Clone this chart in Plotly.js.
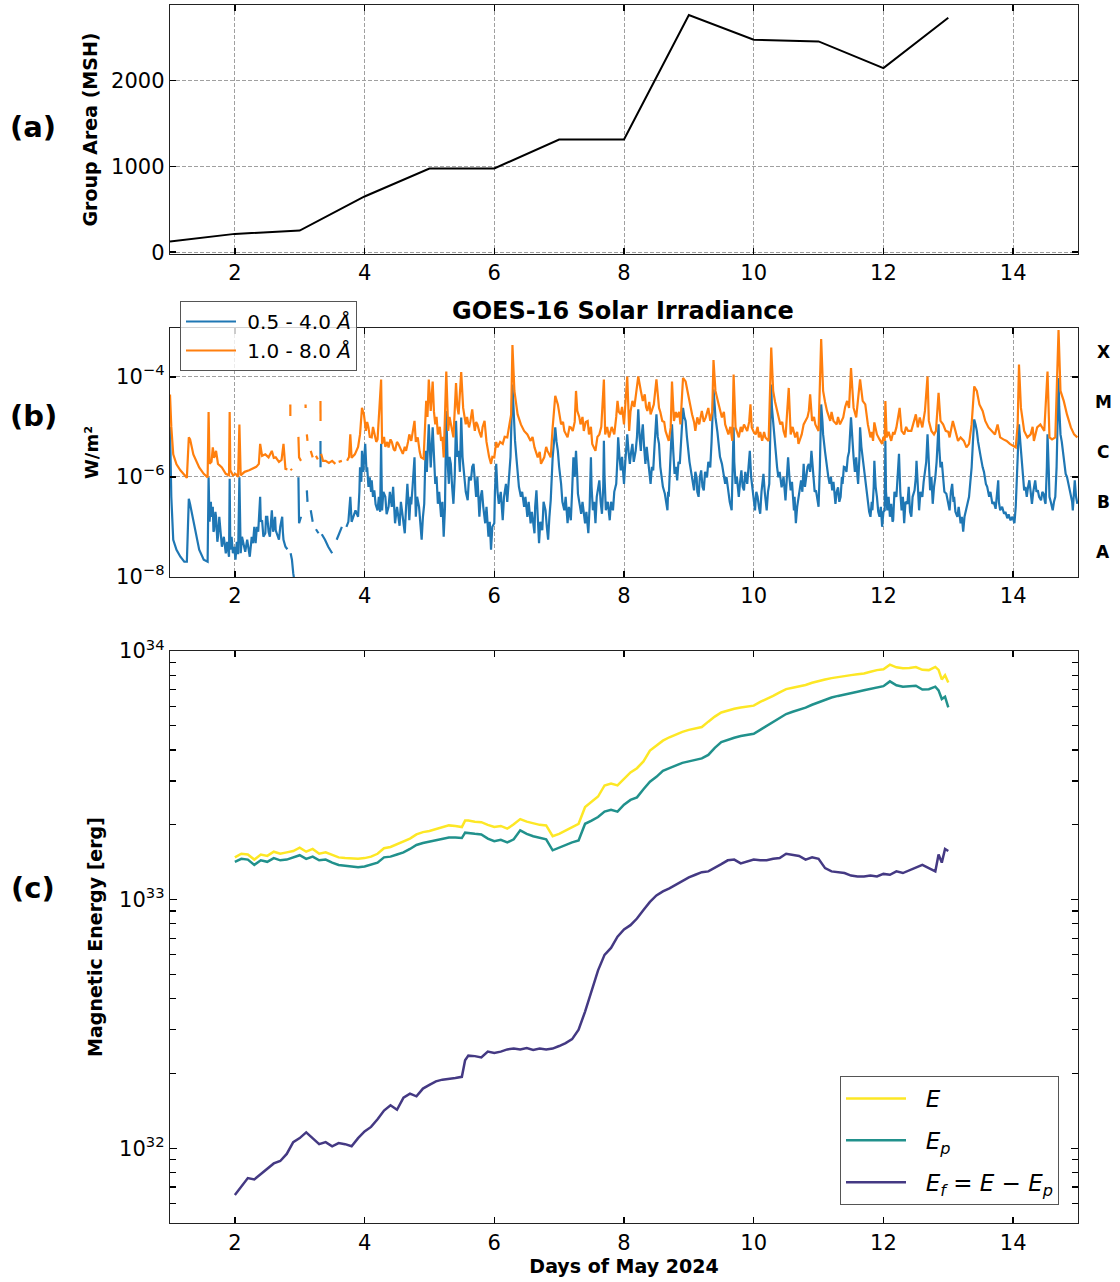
<!DOCTYPE html>
<html><head><meta charset="utf-8">
<script src="https://cdn.plot.ly/plotly-3.0.1.min.js"></script>
<style>html,body{margin:0;padding:0;background:#fff}#chart{width:1120px;height:1282px}</style>
</head><body><div id="chart"></div>
<script>
// ---------- Panel (a): sunspot group area ----------
const areaDay = [1,2,3,4,5,6,7,8,9,10,11,12,13];
const areaMSH = [124,214,252,650,976,976,1314,1314,2764,2476,2457,2145,2733];

// ---------- Panel (b): GOES-16 XRS, [day, log10(flux W/m^2)] ----------
const goesShort = [
[1.00,-5.0],[1.02,-6.4],[1.05,-7.26],[1.10,-7.46],[1.16,-7.60],[1.22,-7.70],[1.26,-7.70],[1.29,-6.44],[1.31,-6.55],[1.36,-6.90],
[1.45,-7.46],[1.52,-7.66],[1.58,-7.70],[1.595,-6.01],[1.60,-6.6],[1.61,-6.90],[1.63,-6.5],[1.64,-6.80],[1.66,-6.60],[1.67,-7.1],
[1.68,-7.07],[1.70,-6.7],[1.71,-6.80],[1.73,-7.3],[1.74,-7.20],[1.76,-6.8],[1.77,-6.93],[1.79,-7.3],[1.80,-7.40],[1.83,-7.2],
[1.86,-7.53],[1.88,-7.3],[1.91,-7.60],[1.92,-6.04],[1.93,-7.46],[1.95,-7.2],[1.97,-7.53],[1.99,-7.4],[2.01,-7.66],[2.03,-7.3],
[2.05,-7.55],[2.07,-6.01],[2.09,-7.53],[2.11,-7.2],[2.13,-7.30],[2.16,-7.5],[2.19,-7.26],[2.21,-7.5],[2.23,-7.60],[2.26,-7.2],
[2.28,-7.33],[2.30,-7.0],[2.32,-7.33],[2.34,-7.0],[2.36,-7.10],[2.39,-6.40],[2.40,-6.9],[2.42,-6.87],[2.44,-7.2],[2.47,-7.13],
[2.48,-6.8],[2.50,-6.80],[2.52,-7.1],[2.54,-7.20],[2.56,-6.9],[2.57,-6.67],[2.59,-7.1],[2.60,-7.0],[2.62,-6.8],[2.63,-7.07],
[2.66,-7.2],[2.68,-7.26],[2.70,-7.0],[2.73,-6.80],[2.74,-7.1],[2.75,-7.26],[2.78,-7.40],[2.81,-7.45],
[2.82,null],[2.86,-7.53],[2.88,-7.66],[2.90,-7.93],[2.92,-8.1],[2.93,null],[2.98,-6.01],[2.981,-6.54],[2.99,-6.93],[3.02,-6.80],
[3.04,null],[3.11,-6.27],[3.12,-6.50],[3.13,null],[3.17,-6.67],[3.20,-6.90],[3.22,null],[3.25,-7.05],[3.29,-7.13],[3.30,null],
[3.32,-5.28],[3.321,-5.81],[3.322,null],[3.34,-7.15],[3.39,-7.26],[3.44,-7.40],[3.50,-7.53],[3.53,null],[3.57,-7.26],[3.62,-7.07],
[3.65,-7.00],[3.68,null],[3.72,-7.00],[3.75,-6.90],[3.78,-6.40],[3.80,-6.90],[3.86,-6.67],
[3.90,-6.80],[3.92,-6.3],[3.93,-5.81],[3.95,-6.1],[3.96,-5.48],[3.98,-5.9],[4.01,-5.34],[4.03,-5.9],[4.04,-5.81],[4.06,-6.2],
[4.08,-6.01],[4.10,-6.3],[4.11,-6.07],[4.13,-6.4],[4.15,-6.27],[4.17,-6.55],[4.20,-6.67],[4.22,-6.4],[4.24,-6.7],[4.255,-5.34],
[4.27,-6.67],[4.29,-6.3],[4.32,-6.40],[4.34,-6.75],[4.37,-6.60],[4.39,-6.3],[4.42,-6.60],[4.44,-6.2],[4.47,-6.93],[4.50,-6.60],
[4.52,-6.85],[4.54,-6.98],[4.56,-6.5],[4.58,-6.70],[4.60,-6.95],[4.62,-7.13],[4.64,-6.6],[4.66,-6.14],[4.68,-6.6],[4.69,-6.87],
[4.71,-6.4],[4.72,-6.55],[4.74,-6.2],[4.77,-5.61],[4.79,-6.80],[4.81,-6.4],[4.84,-6.60],[4.86,-6.9],[4.88,-7.26],[4.90,-6.8],
[4.92,-6.54],[4.94,-5.48],[4.96,-5.9],[4.99,-4.95],[5.01,-5.6],[5.02,-5.81],[5.05,-5.01],[5.07,-5.7],[5.09,-6.14],[5.11,-6.0],
[5.13,-6.54],[5.15,-6.3],[5.18,-6.80],[5.20,-6.5],[5.22,-7.20],[5.24,-6.6],[5.26,-4.68],[5.28,-5.7],[5.30,-6.14],[5.31,-5.6],
[5.33,-5.74],[5.35,-6.2],[5.37,-6.54],[5.39,-6.0],[5.41,-4.88],[5.43,-5.6],[5.45,-5.48],[5.47,-5.9],[5.49,-4.81],[5.51,-5.6],
[5.54,-6.01],[5.56,-6.3],[5.59,-6.47],[5.61,-6.0],[5.64,-6.07],[5.66,-5.8],[5.68,-5.74],[5.70,-6.2],[5.72,-6.40],[5.74,-6.0],
[5.77,-6.80],[5.79,-6.4],[5.81,-6.27],[5.83,-6.6],[5.86,-6.93],[5.88,-6.6],[5.91,-7.20],[5.93,-6.9],[5.95,-7.46],[5.97,-7.0],
[6.00,-6.93],[6.01,-6.3],[6.03,-5.74],[6.05,-6.3],[6.07,-6.54],[6.10,-6.3],[6.13,-6.87],[6.15,-6.4],[6.18,-6.14],[6.20,-6.5],
[6.23,-5.87],[6.25,-5.6],[6.28,-4.15],[6.30,-4.8],[6.32,-5.28],[6.34,-5.6],[6.36,-5.87],[6.38,-6.2],[6.41,-6.40],[6.43,-6.3],
[6.46,-6.60],[6.48,-6.4],[6.51,-6.80],[6.53,-6.5],[6.56,-6.93],[6.58,-6.7],[6.62,-7.13],[6.63,-6.6],[6.65,-6.27],[6.67,-6.9],
[6.69,-7.33],[6.71,-6.9],[6.74,-7.07],[6.76,-6.5],[6.79,-6.67],[6.81,-7.0],[6.83,-7.26],[6.85,-6.8],[6.87,-6.47],[6.90,-5.61],
[6.92,-5.3],[6.94,-5.01],[6.96,-5.3],[6.98,-5.48],[7.00,-5.8],[7.03,-6.14],[7.05,-6.5],[7.08,-6.67],[7.10,-6.4],[7.13,-6.93],
[7.15,-6.6],[7.18,-6.87],[7.20,-6.3],[7.22,-5.61],[7.24,-6.0],[7.26,-5.48],[7.28,-6.0],[7.29,-6.34],[7.31,-6.5],[7.34,-6.74],
[7.36,-6.5],[7.40,-6.93],[7.42,-6.7],[7.45,-7.13],[7.47,-6.6],[7.49,-5.61],[7.50,-6.2],[7.52,-6.67],[7.54,-6.5],[7.56,-6.93],
[7.58,-6.4],[7.62,-6.07],[7.64,-6.5],[7.66,-6.74],[7.68,-6.2],[7.69,-5.28],[7.70,-6.0],[7.72,-6.67],[7.75,-6.5],[7.78,-6.87],
[7.80,-6.5],[7.83,-6.67],[7.85,-6.3],[7.88,-6.14],[7.90,-5.6],[7.91,-5.21],[7.93,-5.6],[7.95,-5.87],[7.97,-5.6],[8.00,-6.14],
[8.02,-5.7],[8.05,-5.15],[8.07,-5.5],[8.09,-5.74],[8.11,-5.5],[8.13,-5.34],[8.15,-5.7],[8.18,-5.48],[8.20,-5.2],[8.22,-4.65],
[8.24,-5.2],[8.26,-5.48],[8.27,-5.2],[8.29,-4.95],[8.31,-5.4],[8.33,-5.74],[8.35,-5.4],[8.37,-5.61],[8.39,-5.9],[8.41,-6.14],
[8.43,-5.8],[8.45,-5.87],[8.47,-5.4],[8.50,-4.75],[8.52,-5.2],[8.54,-5.34],[8.56,-5.8],[8.58,-6.01],[8.60,-6.2],[8.63,-6.34],
[8.65,-6.5],[8.67,-6.67],[8.68,-6.3],[8.69,-6.40],[8.71,-5.8],[8.74,-4.95],[8.76,-5.5],[8.78,-5.94],[8.80,-5.8],[8.82,-6.07],
[8.84,-5.7],[8.86,-5.74],[8.88,-5.3],[8.91,-4.62],[8.93,-4.8],[8.95,-4.88],[8.97,-5.2],[8.99,-5.48],[9.01,-5.7],[9.04,-5.94],
[9.06,-6.1],[9.08,-6.27],[9.10,-5.9],[9.12,-6.01],[9.13,-6.3],[9.15,-6.40],[9.17,-6.0],[9.19,-5.87],[9.21,-6.2],[9.23,-6.27],
[9.25,-5.9],[9.28,-6.01],[9.30,-5.7],[9.33,-5.81],[9.35,-5.3],[9.38,-4.25],[9.40,-4.6],[9.41,-4.81],[9.44,-5.1],[9.46,-5.34],
[9.48,-5.6],[9.51,-5.74],[9.53,-5.9],[9.56,-6.14],[9.58,-6.0],[9.61,-6.34],[9.63,-6.5],[9.66,-6.67],[9.67,-6.2],[9.69,-5.01],
[9.70,-5.7],[9.72,-6.14],[9.74,-6.0],[9.77,-6.40],[9.79,-6.1],[9.81,-5.87],[9.83,-6.2],[9.85,-6.27],[9.87,-5.9],[9.90,-6.14],
[9.92,-5.8],[9.94,-5.48],[9.96,-6.0],[9.98,-6.27],[10.00,-6.5],[10.02,-6.67],[10.04,-6.3],[10.06,-6.40],[10.08,-6.6],[10.10,-6.74],
[10.12,-6.3],[10.15,-5.94],[10.17,-6.3],[10.20,-6.67],[10.22,-6.3],[10.24,-6.14],[10.25,-5.5],[10.27,-4.15],[10.28,-4.6],[10.30,-4.95],
[10.32,-5.3],[10.34,-5.61],[10.36,-5.8],[10.38,-6.01],[10.40,-5.9],[10.43,-6.21],[10.46,-6.0],[10.49,-6.47],[10.51,-6.0],[10.53,-5.61],
[10.55,-6.0],[10.57,-6.27],[10.59,-6.1],[10.62,-6.67],[10.63,-6.4],[10.65,-6.93],[10.67,-6.6],[10.69,-6.40],[10.71,-6.2],[10.73,-6.07],
[10.75,-6.3],[10.77,-5.74],[10.79,-6.2],[10.81,-6.01],[10.83,-5.8],[10.85,-5.74],[10.87,-5.9],[10.89,-5.48],[10.91,-5.8],[10.92,-6.01],
[10.94,-6.3],[10.96,-6.27],[10.98,-6.5],[11.00,-6.60],[11.02,-5.8],[11.04,-4.55],[11.06,-4.9],[11.07,-5.15],[11.10,-5.5],[11.13,-5.87],
[11.15,-6.0],[11.17,-6.14],[11.19,-6.0],[11.21,-6.27],[11.23,-6.1],[11.26,-6.54],[11.28,-6.3],[11.30,-6.21],[11.32,-6.5],[11.34,-6.40],
[11.36,-6.0],[11.37,-6.14],[11.39,-5.8],[11.41,-5.81],[11.43,-5.9],[11.45,-5.61],[11.47,-5.5],[11.50,-4.81],[11.52,-5.3],[11.54,-5.61],
[11.56,-5.9],[11.58,-5.61],[11.60,-6.0],[11.61,-6.14],[11.63,-5.6],[11.64,-5.01],[11.66,-5.4],[11.68,-5.61],[11.70,-5.9],[11.72,-6.01],
[11.74,-6.3],[11.76,-6.54],[11.78,-6.7],[11.80,-6.80],[11.82,-6.5],[11.83,-6.67],[11.85,-6.2],[11.86,-5.68],[11.88,-6.2],[11.90,-6.40],
[11.92,-6.7],[11.94,-6.80],[11.96,-6.6],[11.98,-7.00],[12.00,-6.7],[12.02,-6.67],[12.03,-5.28],[12.04,-6.3],[12.06,-6.67],[12.08,-6.4],
[12.10,-6.8],[12.12,-6.54],[12.14,-6.9],[12.15,-6.87],[12.17,-6.3],[12.20,-6.40],[12.22,-6.0],[12.24,-5.54],[12.26,-6.3],[12.28,-6.67],
[12.30,-6.4],[12.32,-6.93],[12.34,-6.5],[12.37,-6.54],[12.39,-6.2],[12.41,-6.7],[12.43,-6.80],[12.45,-6.4],[12.48,-6.27],[12.50,-6.0],
[12.51,-5.68],[12.53,-6.3],[12.55,-6.67],[12.57,-6.3],[12.60,-6.40],[12.62,-6.1],[12.64,-5.94],[12.66,-5.7],[12.68,-5.15],[12.70,-5.8],
[12.72,-6.27],[12.74,-6.0],[12.76,-6.54],[12.78,-6.2],[12.80,-6.01],[12.82,-5.7],[12.85,-4.95],[12.86,-5.4],[12.88,-5.81],[12.90,-5.7],
[12.92,-6.01],[12.94,-6.3],[12.97,-6.34],[12.99,-6.5],[13.02,-6.67],[13.04,-6.3],[13.06,-6.14],[13.08,-6.5],[13.09,-6.40],[13.11,-6.7],
[13.14,-6.80],[13.16,-6.6],[13.19,-6.93],[13.21,-6.8],[13.23,-7.10],[13.25,-6.8],[13.27,-6.67],[13.30,-6.5],[13.32,-6.40],[13.34,-6.1],
[13.36,-5.81],[13.38,-5.3],[13.40,-4.85],[13.42,-4.95],[13.44,-5.08],[13.46,-5.3],[13.48,-5.48],[13.50,-5.6],[13.53,-5.81],[13.55,-5.9],
[13.58,-6.14],[13.60,-6.2],[13.63,-6.40],[13.65,-6.3],[13.68,-6.54],[13.70,-6.5],[13.73,-6.64],[13.75,-6.4],[13.77,-6.07],[13.78,-6.5],
[13.80,-6.67],[13.83,-6.6],[13.86,-6.74],[13.88,-6.7],[13.91,-6.83],[13.93,-6.75],[13.96,-6.87],[13.99,-6.8],[14.02,-6.93],[14.04,-6.6],
[14.05,-6.27],[14.07,-5.6],[14.09,-4.95],[14.11,-5.3],[14.13,-5.61],[14.15,-6.0],[14.17,-6.27],[14.19,-6.2],[14.21,-6.40],[14.23,-6.2],
[14.25,-6.07],[14.27,-6.3],[14.29,-6.54],[14.31,-6.3],[14.34,-6.07],[14.36,-6.3],[14.38,-6.27],[14.40,-6.4],[14.43,-6.47],[14.45,-6.3],
[14.47,-6.34],[14.49,-6.5],[14.50,-6.54],[14.52,-5.8],[14.53,-5.15],[14.55,-5.9],[14.56,-6.40],[14.58,-6.5],[14.61,-6.67],[14.63,-6.5],
[14.65,-6.40],[14.67,-5.8],[14.70,-4.02],[14.71,-4.6],[14.73,-5.15],[14.75,-5.3],[14.77,-5.48],[14.79,-5.7],[14.81,-5.94],[14.83,-6.0],
[14.85,-6.14],[14.87,-6.3],[14.89,-6.40],[14.91,-6.5],[14.92,-6.67],[14.94,-6.3],[14.95,-6.07],[14.97,-6.4],[14.99,-6.54]
];
const goesLong = [
[1.00,-4.35],[1.02,-5.0],[1.05,-5.55],[1.10,-5.75],[1.16,-5.87],[1.22,-5.97],[1.26,-6.02],[1.29,-5.21],[1.31,-5.25],[1.36,-5.55],
[1.45,-5.81],[1.52,-5.94],[1.58,-6.01],[1.595,-4.70],[1.61,-5.74],[1.64,-5.70],[1.66,-5.41],[1.68,-5.62],[1.71,-5.48],[1.74,-5.74],
[1.80,-5.81],[1.86,-5.94],[1.91,-5.97],[1.92,-4.70],[1.93,-5.87],[1.97,-5.97],[2.01,-5.94],[2.05,-6.0],[2.07,-4.95],[2.09,-5.97],
[2.15,-5.90],[2.22,-5.87],[2.27,-5.84],[2.33,-5.80],[2.37,-5.74],[2.39,-5.34],[2.42,-5.58],[2.47,-5.55],[2.52,-5.61],[2.57,-5.48],
[2.60,-5.62],[2.63,-5.61],[2.68,-5.70],[2.72,-5.66],[2.75,-5.34],[2.78,-5.84],[2.81,-5.85],[2.82,null],[2.855,-4.55],[2.856,-4.78],
[2.857,null],[2.86,-5.84],[2.88,-5.87],[2.89,null],[2.98,-5.20],[2.981,-5.48],[2.99,-5.61],[3.02,-5.68],[3.03,null],[3.09,-4.55],
[3.091,-4.62],[3.095,null],[3.11,-5.15],[3.12,-5.28],[3.13,null],[3.17,-5.48],[3.20,-5.61],[3.21,null],[3.25,-5.58],[3.28,-5.65],
[3.29,null],[3.32,-4.48],[3.321,-4.88],[3.322,null],[3.33,-5.54],[3.36,-5.68],[3.40,-5.68],[3.45,-5.72],[3.50,-5.68],[3.55,-5.74],
[3.58,null],[3.60,-5.70],[3.65,-5.68],[3.68,null],[3.73,-5.68],[3.76,-5.60],[3.78,-5.15],[3.80,-5.62],[3.85,-5.55],[3.90,-5.40],
[3.93,-5.15],[3.96,-4.62],[3.99,-4.75],[4.02,-5.08],[4.04,-4.9],[4.06,-5.01],[4.08,-5.2],[4.11,-5.21],[4.13,-5.0],[4.15,-5.15],
[4.18,-5.3],[4.20,-5.25],[4.255,-4.05],[4.27,-5.34],[4.30,-5.2],[4.32,-5.40],[4.35,-5.3],[4.37,-5.41],[4.40,-5.25],[4.42,-5.30],
[4.45,-5.45],[4.47,-5.48],[4.50,-5.3],[4.52,-5.34],[4.56,-5.44],[4.59,-5.54],[4.62,-5.4],[4.64,-5.48],[4.67,-5.3],[4.69,-5.15],
[4.72,-5.28],[4.77,-4.88],[4.79,-5.3],[4.82,-5.21],[4.85,-5.5],[4.87,-5.61],[4.91,-5.64],[4.95,-4.48],[4.97,-4.8],[4.99,-4.05],
[5.02,-4.68],[5.05,-4.09],[5.07,-4.7],[5.09,-4.95],[5.11,-4.8],[5.13,-5.15],[5.16,-5.0],[5.18,-5.28],[5.20,-5.2],[5.22,-5.61],
[5.26,-3.89],[5.29,-5.08],[5.31,-4.8],[5.33,-4.95],[5.35,-5.1],[5.37,-5.21],[5.41,-4.12],[5.43,-4.6],[5.45,-4.75],[5.49,-3.90],
[5.52,-4.62],[5.54,-4.8],[5.56,-4.95],[5.58,-4.8],[5.61,-5.01],[5.63,-4.9],[5.66,-4.65],[5.68,-4.9],[5.70,-5.08],[5.72,-4.9],
[5.74,-4.95],[5.77,-5.1],[5.80,-5.21],[5.82,-5.0],[5.85,-4.88],[5.88,-5.3],[5.90,-5.48],[5.92,-5.6],[5.95,-5.74],[5.97,-5.6],
[6.00,-5.61],[6.03,-5.3],[6.05,-5.41],[6.09,-5.3],[6.13,-5.34],[6.16,-5.2],[6.20,-5.21],[6.23,-5.0],[6.26,-4.75],[6.28,-3.36],
[6.31,-4.28],[6.36,-4.75],[6.41,-4.95],[6.46,-5.08],[6.51,-5.15],[6.56,-5.28],[6.59,-5.2],[6.62,-5.41],[6.67,-5.61],[6.70,-5.5],
[6.72,-5.74],[6.77,-5.61],[6.80,-5.4],[6.82,-5.48],[6.87,-5.61],[6.90,-5.01],[6.94,-4.38],[6.98,-4.55],[7.03,-4.95],[7.06,-4.9],
[7.08,-5.08],[7.13,-5.21],[7.16,-5.0],[7.18,-5.01],[7.21,-5.08],[7.24,-4.9],[7.26,-4.28],[7.28,-4.68],[7.31,-4.8],[7.33,-4.95],
[7.36,-4.8],[7.38,-5.08],[7.41,-4.9],[7.44,-4.88],[7.46,-5.15],[7.49,-5.0],[7.51,-5.34],[7.56,-5.48],[7.59,-5.2],[7.62,-5.15],
[7.65,-5.0],[7.69,-4.05],[7.71,-5.15],[7.74,-5.0],[7.77,-5.21],[7.81,-5.0],[7.85,-5.15],[7.88,-4.8],[7.90,-4.48],[7.92,-4.7],
[7.95,-4.75],[7.97,-4.6],[8.00,-4.95],[8.05,-3.99],[8.08,-5.08],[8.10,-4.7],[8.13,-4.48],[8.16,-4.6],[8.18,-4.35],[8.22,-3.99],
[8.26,-4.28],[8.29,-4.48],[8.32,-4.35],[8.34,-4.6],[8.36,-4.68],[8.39,-4.5],[8.41,-4.75],[8.44,-4.6],[8.46,-4.55],[8.50,-4.05],
[8.54,-4.62],[8.56,-4.7],[8.59,-4.88],[8.62,-4.9],[8.64,-5.08],[8.67,-5.2],[8.69,-5.28],[8.72,-5.01],[8.74,-4.09],[8.77,-4.88],
[8.80,-4.7],[8.82,-4.81],[8.85,-4.7],[8.87,-4.95],[8.91,-4.02],[8.95,-4.09],[8.98,-4.3],[9.00,-4.42],[9.03,-4.6],[9.05,-4.75],
[9.08,-4.9],[9.10,-5.08],[9.13,-4.81],[9.16,-4.95],[9.20,-4.68],[9.23,-4.9],[9.26,-4.81],[9.30,-4.62],[9.33,-4.88],[9.36,-4.7],
[9.38,-3.66],[9.41,-4.28],[9.46,-4.55],[9.51,-4.81],[9.54,-4.7],[9.56,-4.95],[9.61,-5.15],[9.64,-5.0],[9.67,-5.28],[9.69,-3.95],
[9.72,-5.01],[9.77,-5.21],[9.80,-5.0],[9.82,-5.1],[9.85,-4.95],[9.90,-5.08],[9.93,-4.9],[9.95,-4.55],[9.97,-5.01],[10.00,-5.1],
[10.03,-5.15],[10.06,-5.0],[10.08,-5.21],[10.10,-5.1],[10.13,-5.28],[10.16,-5.1],[10.18,-5.21],[10.23,-5.28],[10.27,-3.41],[10.30,-4.28],
[10.33,-4.5],[10.36,-4.68],[10.39,-4.8],[10.41,-4.95],[10.44,-4.9],[10.46,-5.08],[10.49,-5.21],[10.54,-4.22],[10.57,-5.15],[10.60,-5.0],
[10.64,-5.21],[10.67,-5.1],[10.69,-5.34],[10.74,-5.15],[10.77,-4.95],[10.80,-4.88],[10.83,-4.8],[10.85,-4.68],[10.87,-4.35],[10.90,-4.88],
[10.93,-4.8],[10.95,-4.95],[11.00,-5.08],[11.04,-3.24],[11.07,-4.28],[11.10,-4.5],[11.13,-4.68],[11.18,-4.88],[11.20,-4.7],[11.23,-4.88],
[11.28,-4.95],[11.30,-4.8],[11.33,-4.95],[11.38,-4.81],[11.41,-4.6],[11.44,-4.48],[11.47,-4.62],[11.50,-3.82],[11.54,-4.62],[11.58,-4.81],
[11.64,-4.05],[11.68,-4.48],[11.72,-4.55],[11.76,-4.95],[11.80,-5.21],[11.82,-5.1],[11.84,-5.28],[11.86,-4.91],[11.90,-5.15],[11.94,-5.25],
[11.98,-5.34],[12.00,-5.2],[12.02,-5.28],[12.03,-4.48],[12.05,-5.21],[12.08,-5.1],[12.12,-5.28],[12.15,-5.1],[12.17,-5.15],[12.20,-5.01],
[12.25,-4.62],[12.28,-5.08],[12.32,-5.15],[12.35,-5.0],[12.38,-5.08],[12.43,-5.08],[12.46,-4.95],[12.50,-4.75],[12.53,-5.01],[12.56,-4.81],
[12.60,-5.01],[12.64,-4.68],[12.68,-3.99],[12.70,-4.88],[12.74,-5.08],[12.78,-5.15],[12.81,-5.08],[12.85,-4.32],[12.88,-4.88],[12.92,-4.95],
[12.96,-5.08],[13.00,-5.1],[13.02,-5.21],[13.07,-4.88],[13.11,-5.08],[13.15,-5.28],[13.19,-5.21],[13.24,-5.28],[13.28,-5.41],[13.32,-5.34],
[13.36,-4.95],[13.40,-4.19],[13.44,-4.28],[13.48,-4.55],[13.53,-4.68],[13.57,-4.88],[13.62,-5.01],[13.67,-5.08],[13.72,-5.15],[13.76,-4.95],
[13.80,-5.21],[13.85,-5.25],[13.90,-5.28],[13.95,-5.34],[14.00,-5.38],[14.04,-5.41],[14.07,-4.95],[14.09,-3.75],[14.12,-4.62],[14.17,-5.08],
[14.22,-5.21],[14.27,-5.15],[14.30,-5.0],[14.32,-5.28],[14.37,-5.01],[14.42,-4.95],[14.48,-5.08],[14.53,-3.89],[14.56,-5.21],[14.60,-5.25],
[14.65,-5.21],[14.70,-3.06],[14.73,-4.28],[14.78,-4.48],[14.83,-4.75],[14.89,-5.01],[14.94,-5.15],[14.99,-5.21]
];

// ---------- Panel (c): magnetic energy, units of 1e33 erg ----------
const ENERGY_UNIT = 1e33;
const energyDay = [
2.0,2.1,2.2,2.3,2.4,2.5,2.6,2.7,2.8,2.9,
3.0,3.1,3.2,3.3,3.4,3.5,3.6,3.7,3.8,3.9,
4.0,4.1,4.2,4.3,4.4,4.5,4.6,4.7,4.8,4.9,
5.0,5.1,5.2,5.3,5.4,5.5,5.55,5.6,5.7,5.8,5.9,
6.0,6.1,6.2,6.3,6.4,6.5,6.6,6.7,6.8,6.9,
7.0,7.1,7.2,7.3,7.4,7.5,7.6,7.7,7.8,7.9,
8.0,8.1,8.2,8.3,8.4,8.5,8.6,8.7,8.8,8.9,
9.0,9.1,9.2,9.3,9.4,9.5,9.6,9.7,9.8,9.9,
10.0,10.1,10.2,10.3,10.4,10.5,10.6,10.7,10.8,10.9,
11.0,11.1,11.2,11.3,11.4,11.5,11.6,11.7,11.8,11.9,
12.0,12.1,12.2,12.3,12.4,12.5,12.6,12.7,12.8,12.85,12.9,12.95,13.0
];
const energyTotal = [
1.48,1.53,1.52,1.45,1.52,1.50,1.56,1.53,1.55,1.57,
1.62,1.56,1.60,1.53,1.55,1.52,1.48,1.47,1.46,1.46,
1.47,1.49,1.53,1.61,1.63,1.67,1.72,1.76,1.83,1.87,
1.89,1.92,1.95,1.99,1.98,1.96,2.08,2.08,2.06,2.05,2.00,
1.96,1.98,1.93,2.01,2.11,2.06,2.03,2.00,1.99,1.80,
1.84,1.90,1.96,2.02,2.36,2.48,2.60,2.88,2.93,2.88,
3.06,3.25,3.38,3.60,3.98,4.18,4.36,4.50,4.62,4.73,
4.82,4.90,4.95,5.20,5.45,5.66,5.78,5.86,5.93,5.98,
6.03,6.24,6.41,6.60,6.82,7.03,7.12,7.20,7.30,7.45,
7.59,7.68,7.78,7.87,7.92,8.00,8.06,8.12,8.25,8.38,
8.45,8.81,8.60,8.52,8.55,8.62,8.40,8.38,8.63,8.40,7.69,8.00,7.48
];
const energyPotential = [
1.42,1.46,1.45,1.38,1.44,1.42,1.47,1.44,1.45,1.48,
1.51,1.46,1.49,1.44,1.45,1.41,1.38,1.37,1.36,1.35,
1.36,1.38,1.41,1.48,1.49,1.52,1.55,1.60,1.66,1.69,
1.71,1.73,1.75,1.78,1.78,1.77,1.86,1.85,1.84,1.83,1.76,
1.72,1.74,1.70,1.75,1.90,1.84,1.80,1.77,1.75,1.58,
1.62,1.66,1.70,1.73,2.02,2.08,2.15,2.26,2.30,2.26,
2.41,2.52,2.58,2.78,2.98,3.12,3.30,3.38,3.46,3.55,
3.60,3.66,3.70,3.82,4.08,4.30,4.40,4.48,4.55,4.60,
4.65,4.82,5.01,5.20,5.38,5.58,5.70,5.80,5.92,6.08,
6.22,6.36,6.50,6.60,6.70,6.80,6.86,6.95,7.05,7.14,
7.22,7.55,7.28,7.18,7.19,7.25,7.00,7.02,7.19,6.95,6.41,6.55,5.93
];
const energyFree = [
0.065,0.070,0.076,0.075,0.079,0.083,0.087,0.089,0.095,0.106,
0.110,0.116,0.110,0.104,0.106,0.102,0.105,0.104,0.102,0.110,
0.117,0.122,0.131,0.142,0.149,0.143,0.160,0.166,0.162,0.174,
0.180,0.186,0.189,0.190,0.192,0.194,0.226,0.236,0.235,0.232,0.245,
0.242,0.245,0.250,0.252,0.250,0.253,0.249,0.252,0.250,0.252,
0.258,0.265,0.275,0.300,0.355,0.430,0.520,0.600,0.640,0.710,
0.760,0.790,0.840,0.910,0.980,1.040,1.080,1.110,1.150,1.190,
1.230,1.260,1.290,1.300,1.340,1.390,1.440,1.450,1.400,1.430,
1.450,1.440,1.440,1.460,1.470,1.530,1.520,1.500,1.450,1.480,
1.460,1.340,1.300,1.290,1.280,1.250,1.240,1.240,1.250,1.240,
1.270,1.260,1.300,1.280,1.310,1.350,1.380,1.340,1.300,1.520,1.410,1.600,1.570
];

const dayTicks = [2,4,6,8,10,12,14];
const areaTicks = [0,1000,2000];
const fluxTicks = [1e-8,1e-6,1e-4];
const fluxTickText = ['10<sup>−8</sup>','10<sup>−6</sup>','10<sup>−4</sup>'];
const energyTicks = [1e32,1e33,1e34];
const energyTickText = ['10<sup>32</sup>','10<sup>33</sup>','10<sup>34</sup>'];
const flareClasses = ['X','M','C','B','A'];
const flareClassLog = [-3.5,-4.5,-5.5,-6.5,-7.5];

// ---------- build ----------
const FONT = 'DejaVu Sans, Verdana, sans-serif';
const pow10 = v => (v === null ? null : Math.pow(10, v));
const NB = '\u00a0';

const traces = [
  {x: areaDay, y: areaMSH, xaxis:'x', yaxis:'y', mode:'lines', line:{color:'#000', width:2}, showlegend:false},
  {x: goesShort.map(p=>p[0]), y: goesShort.map(p=>pow10(p[1])), xaxis:'x2', yaxis:'y2', mode:'lines',
   line:{color:'#1f77b4', width:2.2}, name:NB+'0.5 - 4.0 <i>Å</i>', legend:'legend', connectgaps:false},
  {x: goesLong.map(p=>p[0]), y: goesLong.map(p=>pow10(p[1])), xaxis:'x2', yaxis:'y2', mode:'lines',
   line:{color:'#ff7f0e', width:2.2}, name:NB+'1.0 - 8.0 <i>Å</i>', legend:'legend', connectgaps:false},
  {x: energyDay, y: energyTotal.map(v=>v*ENERGY_UNIT), xaxis:'x3', yaxis:'y3', mode:'lines',
   line:{color:'#fde725', width:2.5}, name:NB+NB+'<i>E</i>', legend:'legend2', legendgroup:'g1'},
  {x: energyDay, y: energyPotential.map(v=>v*ENERGY_UNIT), xaxis:'x3', yaxis:'y3', mode:'lines',
   line:{color:'#21918c', width:2.5}, name:NB+NB+'<i>E</i><sub><i>p</i></sub>', legend:'legend2', legendgroup:'g2'},
  {x: energyDay, y: energyFree.map(v=>v*ENERGY_UNIT), xaxis:'x3', yaxis:'y3', mode:'lines',
   line:{color:'#443983', width:2.5}, name:NB+NB+'<i>E</i><sub><i>f</i></sub> = <i>E</i> − <i>E</i><sub><i>p</i></sub>', legend:'legend2', legendgroup:'g3'}
];

const minorEnergy = [];
for (let n = 31; n <= 33; n++) for (let k = 2; k <= 9; k++) { const v = k*Math.pow(10,n); if (v > Math.pow(10,31.7)) minorEnergy.push(v); }

const tickFont = {family: FONT, size: 21, color:'#000'};
function ax(extra) {
  return Object.assign({
    ticks:'inside', ticklen:6, tickwidth:1.5, tickcolor:'#000',
    showline:true, linecolor:'#222', linewidth:1.3, mirror:'allticks',
    zeroline:false, tickfont: tickFont, showgrid:false,
    gridcolor:'#a0a0a0', gridwidth:1, griddash:'4px,2px'
  }, extra);
}
const px = v => (v-170)/908;
const py = v => (1223-v)/1218;

const layout = {
  width:1120, height:1282,
  margin:{l:170, r:42, t:5, b:59},
  paper_bgcolor:'#fff', plot_bgcolor:'#fff',
  font:{family:FONT, color:'#000'},
  xaxis: ax({domain:[0,1], range:[1,15], anchor:'y', tickmode:'array', tickvals:dayTicks, showgrid:true}),
  yaxis: ax({domain:[0.7956,1], range:[-20,2881], anchor:'x', tickmode:'array', tickvals:areaTicks, showgrid:true,
    title:{text:'<b>Group Area (MSH)</b>', font:{family:FONT, size:19}, standoff:8}}),
  xaxis2: ax({domain:[0,1], range:[1,15], anchor:'y2', tickmode:'array', tickvals:dayTicks, showgrid:true}),
  yaxis2: ax({domain:[0.5304,0.7348], type:'log', range:[-8.005,-3.02], anchor:'x2', tickmode:'array',
    tickvals:fluxTicks, ticktext:fluxTickText, showgrid:true,
    title:{text:'<b>W/m²</b>', font:{family:FONT, size:18}, standoff:12}}),
  xaxis3: ax({domain:[0,1], range:[1,15], anchor:'y3', tickmode:'array', tickvals:dayTicks,
    title:{text:'<b>Days of May 2024</b>', font:{family:FONT, size:19}, standoff:6}}),
  yaxis3: ax({domain:[0,0.4696], type:'log', range:[31.7,34.0], anchor:'x3', tickmode:'array',
    tickvals:energyTicks, ticktext:energyTickText, ticklen:7,
    minor:{tickmode:'array', tickvals:minorEnergy, ticks:'inside', ticklen:6, tickwidth:1.2, tickcolor:'#000'},
    title:{text:'<b>Magnetic Energy [erg]</b>', font:{family:FONT, size:19}, standoff:11}}),
  legend: {x:px(180), y:py(301), xanchor:'left', yanchor:'top', bgcolor:'rgba(255,255,255,0.8)',
    bordercolor:'#555', borderwidth:1, font:{family:FONT, size:20, color:'#000'}, itemwidth:50},
  legend2: {x:px(840), y:py(1076), xanchor:'left', yanchor:'top', bgcolor:'rgba(255,255,255,0.8)',
    bordercolor:'#555', borderwidth:1, font:{family:FONT, size:23, color:'#000'}, itemwidth:60, tracegroupgap:9},
  annotations: [
    {text:'<b>(a)</b>', xref:'paper', yref:'paper', x:px(33), y:py(127), xanchor:'center', yanchor:'middle', showarrow:false, font:{size:29, family:FONT}},
    {text:'<b>(b)</b>', xref:'paper', yref:'paper', x:px(33), y:py(416), xanchor:'center', yanchor:'middle', showarrow:false, font:{size:29, family:FONT}},
    {text:'<b>(c)</b>', xref:'paper', yref:'paper', x:px(33), y:py(888), xanchor:'center', yanchor:'middle', showarrow:false, font:{size:29, family:FONT}},
    {text:'<b>GOES-16 Solar Irradiance</b>', xref:'paper', yref:'paper', x:px(623), y:py(311), xanchor:'center', yanchor:'middle', showarrow:false, font:{size:24, family:FONT}},
  ].concat(flareClasses.map((c,i)=>({text:'<b>'+c+'</b>', xref:'paper', yref:'y2', x:px(1103), y:flareClassLog[i], xanchor:'center', yanchor:'middle', showarrow:false, font:{size:17, family:FONT}})))
};

Plotly.newPlot('chart', traces, layout, {displayModeBar:false, staticPlot:true});
</script></body></html>
